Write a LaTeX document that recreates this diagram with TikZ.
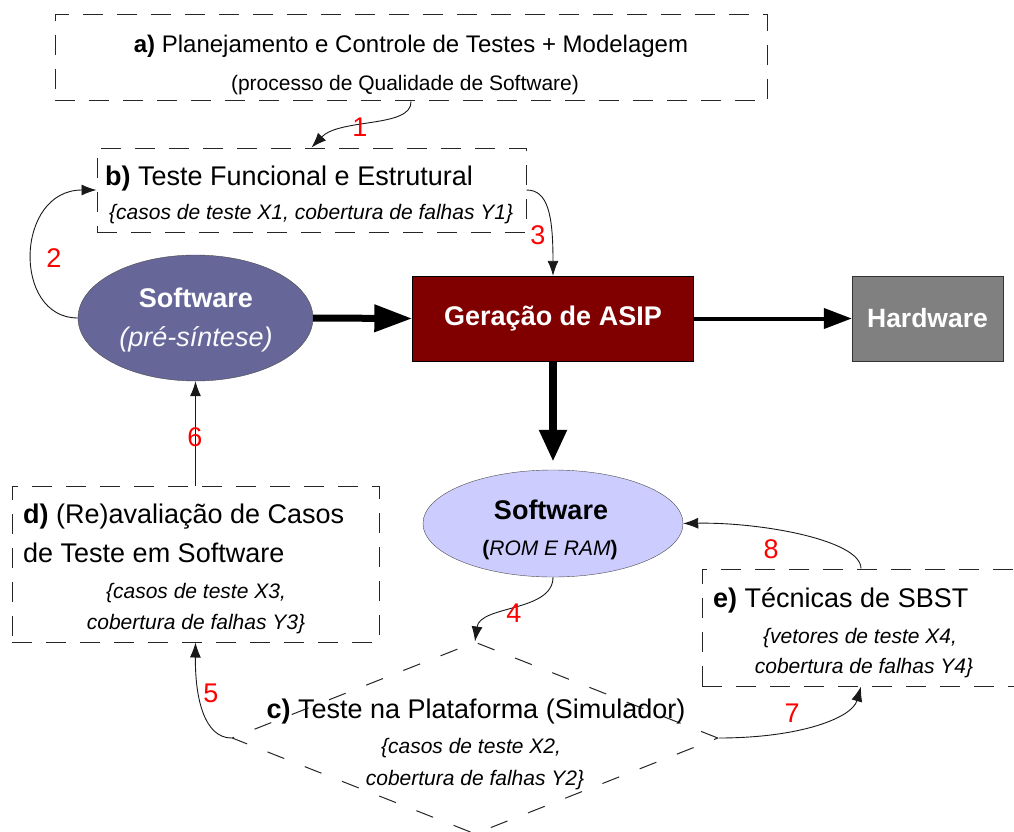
\documentclass[tikz,border=0pt]{standalone}
\usepackage{fontspec}
\setmainfont{Liberation Sans}
\usetikzlibrary{arrows.meta,shapes.geometric}
\definecolor{swA}{HTML}{666699}
\definecolor{swB}{HTML}{CCCCFF}
\definecolor{asipred}{HTML}{800000}
\definecolor{hwgray}{HTML}{808080}
\tikzset{
  dbox/.style={draw=black!85, dash pattern=on 20pt off 14pt, line width=1pt, rectangle, inner sep=0pt},
  txt/.style={anchor=base, inner sep=0pt, font=\fontsize{27}{32}\selectfont},
  txtw/.style={anchor=base west, inner sep=0pt, font=\fontsize{27}{32}\selectfont},
  smalltxt/.style={anchor=base, inner sep=0pt, font=\fontsize{21}{25}\selectfont\itshape},
  num/.style={text=red, inner sep=0pt, font=\fontsize{27}{32}\selectfont},
  conn/.style={draw=black!90, line width=0.9pt, -{Latex[length=15pt,width=11pt]}},
}
\begin{document}
\begin{tikzpicture}[x=1pt,y=-1pt]
\fill[white] (0,0) rectangle (1014,832);
\useasboundingbox (0,0) rectangle (1014,832);

% box a
\node[dbox, minimum width=712pt, minimum height=86pt] (a) at (411,58) {};
\node[txt, font=\fontsize{24}{28}\selectfont] (a1) at (411,53) {\textbf{a)} Planejamento e Controle de Testes + Modelagem};
\node[txt, font=\fontsize{21}{25}\selectfont] (a2) at (405,91) {(processo de Qualidade de Software)};

% box b
\node[dbox, minimum width=429pt, minimum height=84pt] (b) at (311.5,190) {};
\node[txtw] (b1) at (105,185) {\textbf{b)} Teste Funcional e Estrutural};
\node[smalltxt, anchor=base west] (b2) at (109,219) {\{casos de teste X1, cobertura de falhas Y1\}};

% software pre-sintese
\node[ellipse, draw=black!70, fill=swA, minimum width=235pt, minimum height=126pt, inner sep=0pt] (s1) at (195.5,318) {};
\node[txt, text=white, font=\fontsize{27}{32}\selectfont\bfseries] (s1a) at (196,307) {Software};
\node[txt, text=white!90!swB, font=\fontsize{27}{32}\selectfont\itshape] (s1b) at (196,346) {(pré-síntese)};

% ASIP
\node[draw=black, fill=asipred, minimum width=281pt, minimum height=85pt, text=white, inner sep=0pt, font=\fontsize{27}{32}\selectfont\bfseries] (asip) at (553,318.5) {Geração de ASIP};

% Hardware
\node[draw=black!80, fill=hwgray, minimum width=151pt, minimum height=85pt, text=white, inner sep=0pt, font=\fontsize{26.5}{32}\selectfont\bfseries] (hw) at (927.5,318.5) {Hardware};

% software ROM e RAM
\node[ellipse, draw=black!70, fill=swB, minimum width=260pt, minimum height=107pt, inner sep=0pt] (s2) at (553,523.5) {};
\node[txt, font=\fontsize{27}{32}\selectfont\bfseries] (s2a) at (551,519) {Software};
\node[txt, font=\fontsize{21}{25}\selectfont] (s2b) at (550,555) {\textbf{(}\textit{ROM E RAM}\textbf{)}};

% box d
\node[dbox, minimum width=367pt, minimum height=156pt] (d) at (195.5,564) {};
\node[txtw] (d1) at (23,523) {\textbf{d)} (Re)avaliação de Casos};
\node[txtw] (d2) at (23,562) {de Teste em Software};
\node[smalltxt] (d3) at (196,598) {\{casos de teste X3,};
\node[smalltxt] (d4) at (196,629) {cobertura de falhas Y3\}};

% box e
\node[dbox, minimum width=318pt, minimum height=117pt] (e) at (861,627.5) {};
\node[txtw] (e1) at (713,607) {\textbf{e)} Técnicas de SBST};
\node[smalltxt] (e2) at (860,643) {\{vetores de teste X4,};
\node[smalltxt] (e3) at (864,673) {cobertura de falhas Y4\}};

% diamond c
\node[diamond, draw=black!85, dash pattern=on 18pt off 22pt, line width=1pt, minimum width=486pt, minimum height=192pt, inner sep=0pt] (c) at (475,738) {};
\node[txt] (c1) at (476,718) {\textbf{c)} Teste na Plataforma (Simulador)};
\node[smalltxt] (c2) at (471,753) {\{casos de teste X2,};
\node[smalltxt] (c3) at (475,785) {cobertura de falhas Y2\}};

% main thick arrows
\draw[line width=7pt, -{Triangle[length=38pt,width=26pt]}] (s1.east) -- (asip.west);
\draw[line width=4pt, -{Triangle[length=28pt,width=20pt]}] (asip.east) -- (hw.west);
\coordinate (s2top) at ([yshift=8pt]s2.north);
\draw[line width=8pt, -{Triangle[length=32pt,width=26pt]}] (asip.south) -- (s2top);

% thin numbered connectors
\draw[conn] (a.south) .. controls (412,128) and (340,118) .. (b.north);
\draw[conn] (s1.west) .. controls (12,318) and (15,190) .. (b.west);
\draw[conn] (b.east) .. controls (548,190) and (553,215) .. (asip.north);
\draw[conn] (s2.south) .. controls (553,612) and (480,605) .. (c.north);
\draw[conn] (c.west) .. controls (205,738) and (195,700) .. (d.south);
\draw[conn] (d.north) -- (s1.south);
\draw[conn] (c.east) .. controls (800,738) and (852,718) .. (e.south);
\draw[conn] (e.north) .. controls (861,540) and (760,522) .. (s2.east);

\node[num] (n1) at (360,127) {1};
\node[num] (n2) at (54,258) {2};
\node[num] (n3) at (538,235) {3};
\node[num] (n4) at (514,613) {4};
\node[num] (n5) at (211,693) {5};
\node[num] (n6) at (195,437) {6};
\node[num] (n7) at (792,713) {7};
\node[num] (n8) at (771,549) {8};
\end{tikzpicture}
\end{document}
